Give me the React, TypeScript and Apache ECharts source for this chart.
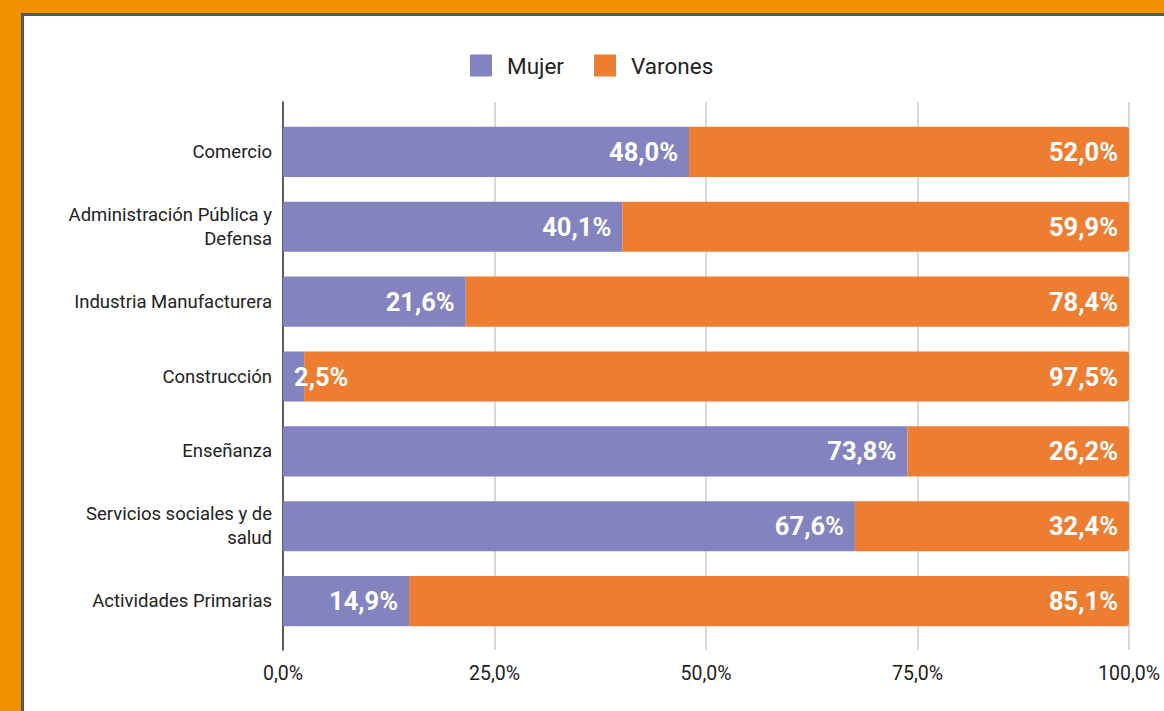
import React, { useEffect, useRef } from "react";
import * as echarts from "echarts";

const categories = [
  "Comercio",
  "Administración Pública y\nDefensa",
  "Industria Manufacturera",
  "Construcción",
  "Enseñanza",
  "Servicios sociales y de\nsalud",
  "Actividades Primarias",
];
const mujer = [48.0, 40.1, 21.6, 2.5, 73.8, 67.6, 14.9];
const varones = [52.0, 59.9, 78.4, 97.5, 26.2, 32.4, 85.1];
const seriesNames = ["Mujer", "Varones"];

const fmt = (v: number) => v.toFixed(1).replace(".", ",") + "%";
const FONT = "Roboto, sans-serif";

export default function App() {
  const ref = useRef<HTMLDivElement>(null);
  useEffect(() => {
    if (!ref.current) return;
    const chart = echarts.init(ref.current, undefined, { renderer: "svg" });
    const labelBase = {
      show: true,
      color: "#ffffff",
      fontFamily: FONT,
      fontWeight: "bold" as const,
      fontSize: 25.5,
      distance: 11,
      formatter: (p: any) => fmt(p.value),
    };
    chart.setOption({
      animation: false,
      backgroundColor: "#F29100",
      graphic: [
        {
          type: "rect",
          shape: { x: 22.5, y: 14.5, width: 1200, height: 800 },
          style: { fill: "#ffffff", stroke: "#585858", lineWidth: 3 },
          z: -10,
        },
      ],
      legend: {
        left: 465,
        top: 49,
        itemWidth: 22,
        itemHeight: 22,
        itemGap: 30,
        textStyle: { fontFamily: FONT, fontSize: 22.5, color: "#222", padding: [0, 0, 0, 10] },
        data: seriesNames,
        icon: "rect",
      },
      grid: [
        { left: 283, top: 102, width: 846, height: 548 },
        { left: 283, top: 114.5, width: 846, height: 524 },
      ],
      xAxis: [
        {
          type: "value",
          gridIndex: 0,
          min: 0,
          max: 100,
          interval: 25,
          axisLine: { show: false },
          axisTick: { show: false },
          splitLine: { show: true, lineStyle: { color: "#cccccc", width: 1.5 } },
          axisLabel: {
            fontFamily: FONT,
            fontSize: 19.5,
            color: "#222",
            margin: 13,
            formatter: (v: number) => fmt(v),
          },
        },
        {
          type: "value",
          gridIndex: 1,
          min: 0,
          max: 100,
          show: false,
        },
      ],
      yAxis: [
        {
          type: "category",
          gridIndex: 0,
          data: categories,
          inverse: true,
          axisLine: { show: true, lineStyle: { color: "#333", width: 1.5 } },
          axisTick: { show: false },
          axisLabel: { show: false },
        },
        {
          type: "category",
          gridIndex: 1,
          data: categories,
          inverse: true,
          axisLine: { show: false },
          axisTick: { show: false },
          axisLabel: {
            fontFamily: FONT,
            fontSize: 18.5,
            color: "#222",
            margin: 11,
            lineHeight: 24,
            align: "right",
          },
        },
      ],
      series: [
        {
          name: seriesNames[0],
          type: "bar",
          stack: "total",
          xAxisIndex: 1,
          yAxisIndex: 1,
          barWidth: "67%",
          itemStyle: { color: "#8383BF", borderRadius: [2, 0, 0, 2] },
          data: mujer.map((v) => ({
            value: v,
            label: { position: v < 10 ? "insideLeft" : "insideRight" },
          })),
          label: { ...labelBase, position: "insideRight" },
        },
        {
          name: seriesNames[1],
          type: "bar",
          stack: "total",
          xAxisIndex: 1,
          yAxisIndex: 1,
          barWidth: "67%",
          itemStyle: { color: "#ED7D31", borderRadius: [0, 3, 3, 0] },
          data: varones,
          label: { ...labelBase, position: "insideRight" },
        },
      ],
    });
    return () => chart.dispose();
  }, []);
  return (
    <div
      ref={ref}
      style={{ position: "fixed", left: 0, top: 0, width: 1164, height: 711 }}
    />
  );
}
